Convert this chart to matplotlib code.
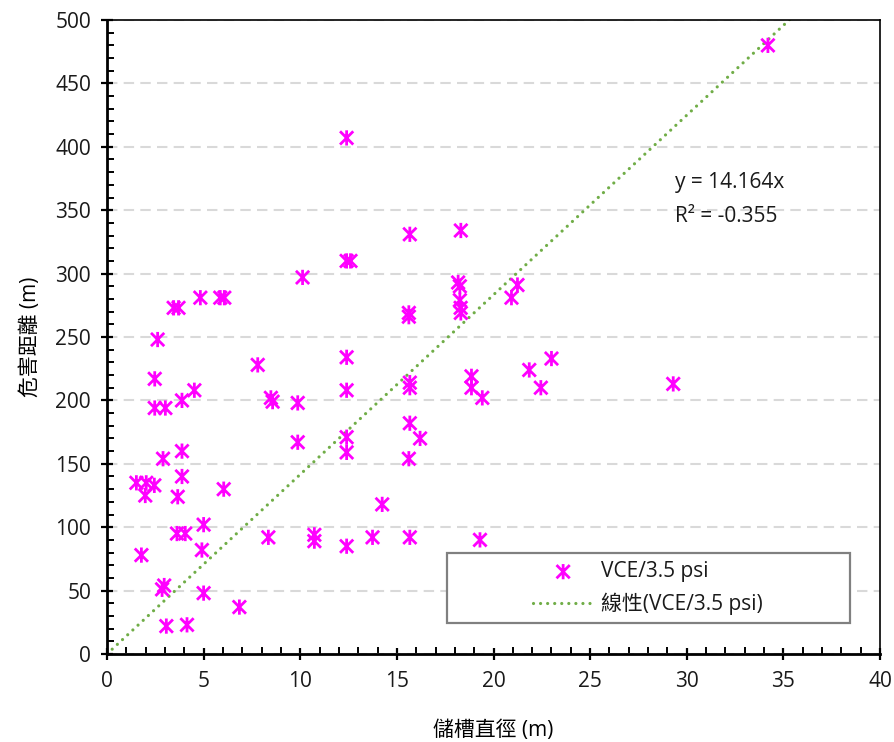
import matplotlib
matplotlib.use("Agg")
import matplotlib.pyplot as plt
from matplotlib.path import Path
from matplotlib.patches import Rectangle
from matplotlib.ticker import MultipleLocator
import numpy as np

plt.rcParams['font.family'] = ['Open Sans', 'Noto Sans CJK TC', 'DejaVu Sans']
plt.rcParams['text.color'] = '#1a1a1a'
plt.rcParams['xtick.labelcolor'] = '#1a1a1a'
plt.rcParams['ytick.labelcolor'] = '#1a1a1a'

# Tank diameter (m) vs. hazard distance (m) for VCE at 3.5 psi
diameter = [1.52, 2.03, 2.45, 1.98, 1.78, 2.47, 2.47, 3.02, 2.62, 2.90,
            2.85, 2.96, 3.07, 3.45, 3.70, 3.66, 3.62, 3.88, 3.88, 3.88,
            4.05, 4.14, 4.52, 4.83, 4.91, 5.00, 5.00, 5.86, 6.07, 6.04,
            6.85, 7.80, 8.35, 8.48, 8.57, 9.87, 9.87, 10.12, 10.73, 10.73,
            12.40, 12.40, 12.60, 12.40, 12.40, 12.40, 12.40, 12.40, 13.74, 14.24,
            15.67, 15.62, 15.62, 15.67, 15.67, 15.67, 15.62, 15.67, 16.20, 18.31,
            18.17, 18.26, 18.26, 18.30, 18.31, 18.86, 18.86, 19.42, 19.30, 20.93,
            21.24, 21.85, 22.45, 23.00, 29.30, 34.20]
distance = [135, 135, 133, 125, 78, 217, 194, 194, 248, 154,
            51, 54, 22, 273, 273, 124, 95, 200, 160, 140,
            95, 23, 208, 281, 82, 102, 48, 281, 281, 130,
            37, 228, 92, 202, 199, 198, 167, 297, 94, 89,
            407, 310, 310, 234, 208, 171, 159, 85, 92, 118,
            331, 269, 266, 214, 210, 182, 154, 92, 170, 334,
            293, 290, 279, 273, 269, 219, 210, 202, 90, 281,
            291, 224, 210, 233, 213, 480]

slope = 14.164
r_squared = -0.355
series_name = 'VCE/3.5 psi'

x_ticks = list(range(0, 41, 5))
y_ticks = list(range(0, 501, 50))

# Asterisk-style marker: an "x" plus a vertical bar
star_path = Path(
    [(-1, -1), (1, 1), (-1, 1), (1, -1), (0, -1.15), (0, 1.15)],
    [Path.MOVETO, Path.LINETO, Path.MOVETO, Path.LINETO, Path.MOVETO, Path.LINETO],
)

FS = 15

fig = plt.figure(figsize=(8.95, 7.42), dpi=100)
ax = fig.add_axes([107 / 895, 1 - 654 / 742, 773 / 895, 634 / 742])

ax.set_xlim(0, 40)
ax.set_ylim(0, 500)
ax.set_xticks(x_ticks)
ax.set_yticks(y_ticks)
ax.xaxis.set_minor_locator(MultipleLocator(1))
ax.yaxis.set_minor_locator(MultipleLocator(10))

ax.yaxis.grid(True, which='major', color='#D9D9D9', linestyle=(0, (5, 3)), linewidth=1.5)
ax.set_axisbelow(True)

for side in ['left', 'bottom']:
    ax.spines[side].set_linewidth(2.0)
    ax.spines[side].set_color('black')
for side in ['top', 'right']:
    ax.spines[side].set_linewidth(1.2)
    ax.spines[side].set_color('black')

ax.tick_params(which='major', direction='inout', length=9, width=1.6, labelsize=FS,
               top=False, right=False)
ax.tick_params(axis='x', which='major', pad=8)
ax.tick_params(axis='y', which='major', pad=7)
ax.tick_params(which='minor', direction='in', length=5, width=1.4, top=False, right=False)

# Linear trendline through the origin
tx = np.array([0, 40])
line, = ax.plot(tx, slope * tx, color='#70AD47', linewidth=2.3,
                linestyle=(0, (0.01, 2.2)), dash_capstyle='round',
                label='線性(' + series_name + ')', zorder=2)

pts = ax.scatter(diameter, distance, marker=star_path, s=120, facecolors='none',
                 edgecolors='#FF00FF', linewidths=2.0, label=series_name, zorder=3)

ax.text(29.4, 372, f'y = {slope}x', fontsize=FS, va='center', ha='left')
ax.text(29.4, 345, f'R² = {r_squared}', fontsize=FS, va='center', ha='left')

# Legend box and its entries
box = Rectangle((0.44, 0.049), 0.521, 0.11, transform=ax.transAxes, facecolor='white',
                edgecolor='#808080', linewidth=1.6, zorder=4)
ax.add_patch(box)
leg = ax.legend(handles=[pts, line], loc='center left', bbox_to_anchor=(0.551, 0.104),
                fontsize=FS, frameon=False, handlelength=2.9, borderpad=0.0,
                borderaxespad=0.0, labelspacing=0.5, handletextpad=0.35)
leg.set_zorder(5)

ax.set_xlabel('儲槽直徑 (m)', fontsize=FS, labelpad=20)
ax.set_ylabel('危害距離 (m)', fontsize=FS, labelpad=10)

fig.savefig('out.png', dpi=100)
